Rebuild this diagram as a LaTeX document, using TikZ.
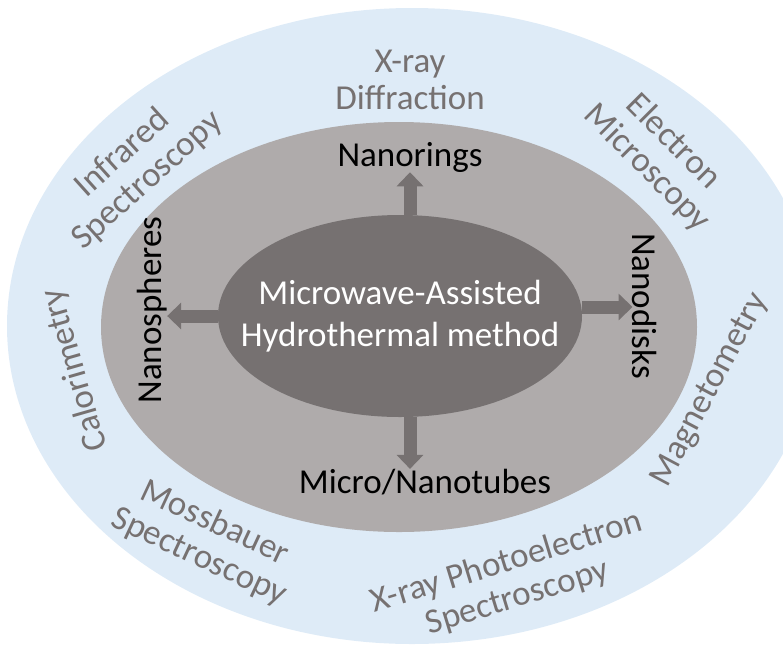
\documentclass[tikz,border=0pt]{standalone}
\usepackage{fontspec}
\setmainfont{Carlito}
\usepackage{xcolor}
\usetikzlibrary{arrows.meta,positioning,shapes.geometric}

\definecolor{ringblue}{HTML}{DEEBF7}
\definecolor{ringgrey}{HTML}{AFABAB}
\definecolor{coregrey}{HTML}{767171}

\begin{document}
\begin{tikzpicture}[x=1pt,y=-1pt,
  blockarrow/.style={draw=coregrey,fill=coregrey,line width=13pt,
    -{Triangle[width=26pt,length=14pt]}},
  shape node/.style={inner sep=0pt,font=\fontsize{35}{40}\selectfont},
  tech node/.style={inner sep=0pt,align=center,text=coregrey,
    font=\fontsize{35}{37}\selectfont}]
    \useasboundingbox (0,0) rectangle (783,646);
    \clip (0,0) rectangle (783,646);
    % rings
    \fill[ringblue] (412,326) ellipse [x radius=405,y radius=318];
    \fill[ringgrey] (399,327) ellipse [x radius=298,y radius=205];
    \node[ellipse,fill=coregrey,minimum width=364pt,minimum height=202pt,
      inner sep=0pt] (core) at (400,316) {};
    \node[inner sep=0pt,text=white,align=center,
      font=\fontsize{35}{42}\selectfont] (method) at (core) 
      {Microwave-Assisted\\Hydrothermal method};
    % shapes
    \node[shape node] (rings) at (410,157) {Nanorings};
    \node[shape node] (tubes) at (425,482) {Micro/Nanotubes};
    \node[shape node,rotate=90] (spheres) at (152,310) {Nanospheres};
    \node[shape node,rotate=-90] (disks) at (645,306) {Nanodisks};
    \draw[blockarrow] (core.north -| rings) -- (rings.south);
    \draw[blockarrow] (core.south -| rings) -- (tubes.north -| rings);
    \draw[blockarrow] (core.west) -- (core.west -| spheres.south);
    \draw[blockarrow] ([yshift=9pt]core.east) -- ([yshift=9pt]core.east -| disks.south);
    % techniques
    \node[tech node] (xrd) at (410,80) {X-ray\\Diffraction};
    \node[tech node,rotate=42] (ir) at (135,167) {Infrared\\Spectroscopy};
    \node[tech node,rotate=-45] (em) at (660,155) {Electron\\Microscopy};
    \node[tech node,rotate=106] (cal) at (75,370) {Calorimetry};
    \node[tech node,rotate=62] (mag) at (710,390) {Magnetometry};
    \node[tech node,rotate=-25] (moss) at (207,540) {Mossbauer\\Spectroscopy};
    \node[tech node,rotate=17] (xps) at (512,580) {X-ray Photoelectron\\Spectroscopy};
\end{tikzpicture}
\end{document}
